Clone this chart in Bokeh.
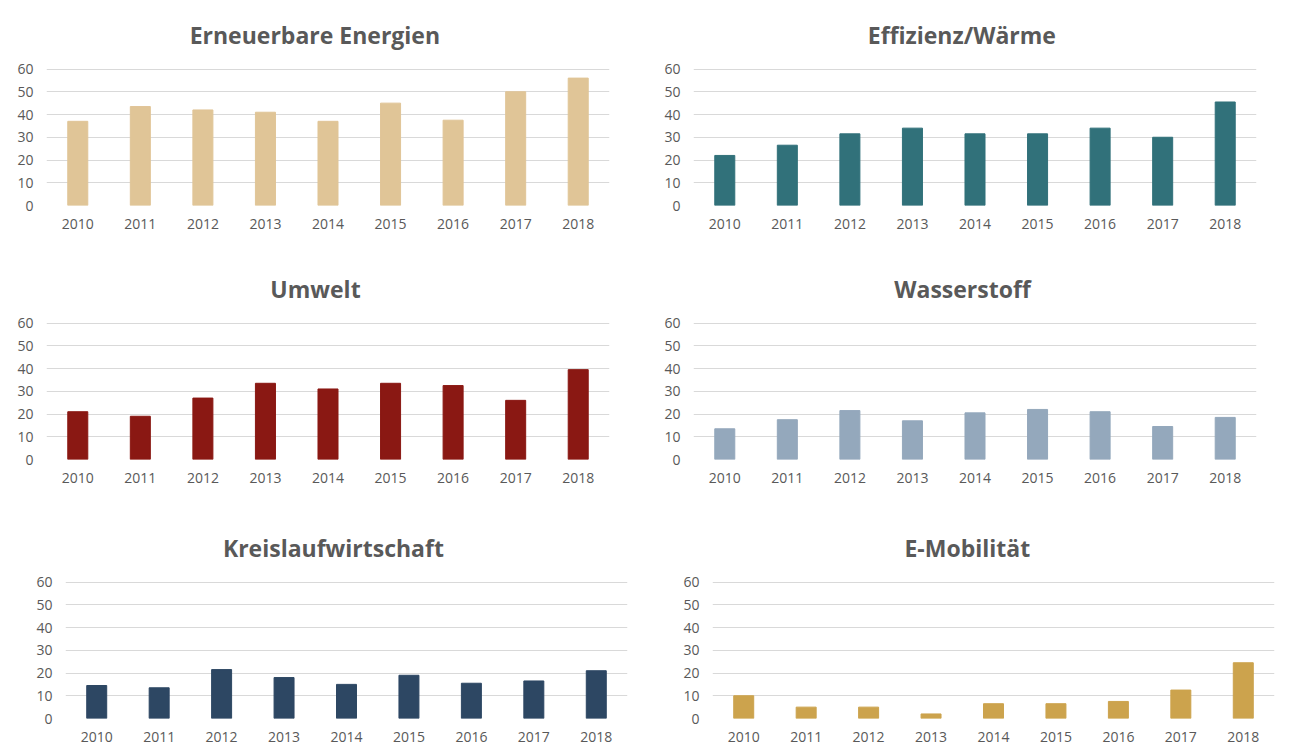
from bokeh.plotting import figure
from bokeh.models import FactorRange, FixedTicker, Label, Range1d
from bokeh.layouts import column, row
from bokeh.embed import file_html
from bokeh.resources import INLINE

years = ["2010", "2011", "2012", "2013", "2014", "2015", "2016", "2017", "2018"]
y_ticks = [0, 10, 20, 30, 40, 50, 60]

titles = ["Erneuerbare Energien", "Effizienz/Wärme", "Umwelt", "Wasserstoff",
          "Kreislaufwirtschaft", "E-Mobilität"]
erneuerbare = [37, 43.5, 42, 41, 37, 45, 37.5, 50, 56]
effizienz = [22, 26.5, 31.5, 34, 31.5, 31.5, 34, 30, 45.5]
umwelt = [21, 19, 27, 33.5, 31, 33.5, 32.5, 26, 39.5]
wasserstoff = [13.5, 17.5, 21.5, 17, 20.5, 22, 21, 14.5, 18.5]
kreislauf = [14.5, 13.5, 21.5, 18, 15, 19, 15.5, 16.5, 21]
emobilitaet = [10, 5, 5, 2, 6.5, 6.5, 7.5, 12.5, 24.5]
series = [erneuerbare, effizienz, umwelt, wasserstoff, kreislauf, emobilitaet]
colors = ["#E0C597", "#31717A", "#8A1813", "#94A8BC", "#2D4763", "#CCA34D"]

FONT = "Open Sans"
TXT = "#595959"
GRID = "#D9D9D9"

# (border_left, frame_width, border_right, border_top, frame_height, border_bottom)
geo = [
    (46, 563, 36, 11, 194, 50),
    (48, 563, 34, 11, 194, 50),
    (46, 563, 36, 10, 194, 55),
    (48, 563, 34, 10, 194, 55),
    (65, 562, 18, 10, 194, 31),
    (67, 562, 16, 10, 194, 31),
]
PX60 = 136.5          # pixel height of the 0..60 band
TITLE_PX = 171.0      # title centre above the zero line, px
TITLE_X = [4.29, 4.29, 4.30, 4.30, 4.29, 4.08]


def make(i):
    bl, fw, br, bt, fh, bb = geo[i]
    y_end = 60.0 * fh / PX60
    p = figure(x_range=FactorRange(factors=years), y_range=Range1d(0, y_end),
               frame_width=fw, frame_height=fh,
               min_border_left=bl, min_border_right=br,
               min_border_top=bt, min_border_bottom=bb,
               output_backend="svg", toolbar_location=None)
    p.vbar(x=years, top=series[i], width=0.32, color=colors[i])
    p.outline_line_color = None
    p.xgrid.grid_line_color = None
    p.ygrid.grid_line_color = GRID
    p.ygrid.grid_line_width = 1
    p.yaxis.ticker = FixedTicker(ticks=y_ticks)
    for ax in (p.xaxis[0], p.yaxis[0]):
        ax.axis_line_color = None
        ax.major_tick_line_color = None
        ax.minor_tick_line_color = None
        ax.major_tick_out = 0
        ax.major_tick_in = 0
        ax.major_label_text_font = FONT
        ax.major_label_text_font_size = "14px"
        ax.major_label_text_color = TXT
    p.yaxis.major_label_standoff = 13
    p.xaxis.major_label_standoff = 13
    lab = Label(x=TITLE_X[i], y=TITLE_PX * 60.0 / PX60,
                text=titles[i], text_font=FONT, text_font_size="23px",
                text_font_style="bold", text_color=TXT,
                text_align="center", text_baseline="middle")
    p.add_layout(lab)
    return p


figs = [make(i) for i in range(6)]
layout = column(row(figs[0], figs[1]), row(figs[2], figs[3]), row(figs[4], figs[5]))

open("out.html", "w").write(file_html(layout, INLINE))
